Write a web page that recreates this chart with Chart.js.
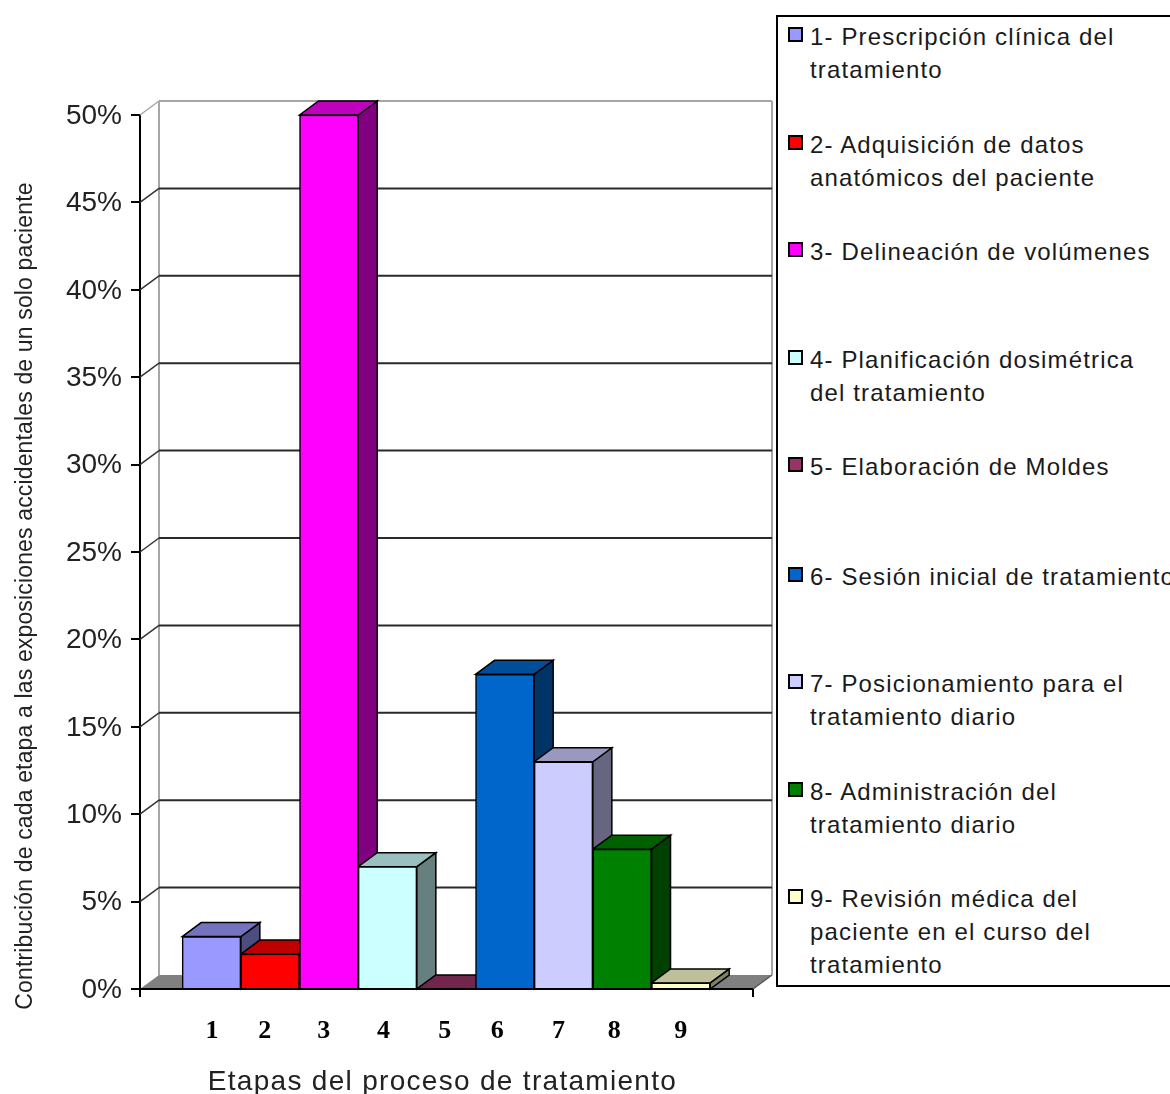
<!DOCTYPE html>
<html><head><meta charset="utf-8">
<script src="https://cdn.jsdelivr.net/npm/chart.js@4"></script>
<style>
html,body{margin:0;padding:0;background:#fff;overflow:hidden;width:1170px;height:1094px}
#wrap{position:relative;width:1170px;height:1094px;overflow:hidden}
canvas{position:absolute;left:0;top:0}
#legend{position:absolute;left:776px;top:15px;width:500px;height:968px;border:2px solid #000;background:#fff;font-family:"Liberation Sans",Arial,sans-serif;color:#1a1a1a}
.item{position:absolute;left:32px;font-size:24px;line-height:33px;letter-spacing:1.15px;white-space:nowrap}
.sw{position:absolute;left:10px;width:11px;height:11px;border:2px solid #000}
</style></head>
<body><div id="wrap"><canvas id="c" width="1170" height="1094"></canvas><div id="legend"></div></div>
<script>
const steps=[1,2,3,4,5,6,7,8,9];
const values=[3,2,50,7,0,18,13,8,0.35];
const colors=['#9999FF','#FF0000','#FF00FF','#CCFFFF','#993366','#0066CC','#CCCCFF','#008000','#FFFFCC'];
const legendLines=[
 ['1- Prescripción clínica del','tratamiento'],
 ['2- Adquisición de datos','anatómicos del paciente'],
 ['3- Delineación de volúmenes'],
 ['4- Planificación dosimétrica','del tratamiento'],
 ['5- Elaboración de Moldes'],
 ['6- Sesión inicial de tratamiento'],
 ['7- Posicionamiento para el','tratamiento diario'],
 ['8- Administración del','tratamiento diario'],
 ['9- Revisión médica del','paciente en el curso del','tratamiento']
];
const yTitle='Contribución de cada etapa a las exposiciones accidentales de un solo paciente';
const xTitle='Etapas del proceso de tratamiento';
const tickNudges=[0.5,-5.5,-5,-4,-1.5,-7.5,-5,-8,0];
const legendRows=[37,145,252,360,467,577,684,792,899];
const DX=19,DY=14;

const legend=document.getElementById('legend');
legendLines.forEach((lines,i)=>{
  const top=legendRows[i]-34;
  const sw=document.createElement('div');sw.className='sw';sw.style.top=(top+7)+'px';sw.style.background=colors[i];
  const t=document.createElement('div');t.className='item';t.style.top=top+'px';t.innerHTML=lines.join('<br>');
  legend.append(sw,t);
});

function shade(hex,f){
  const n=parseInt(hex.slice(1),16);
  return `rgb(${Math.round((n>>16&255)*f)},${Math.round((n>>8&255)*f)},${Math.round((n&255)*f)})`;
}
function poly(ctx,pts,fill,stroke,w){
  ctx.beginPath();pts.forEach((p,i)=>i?ctx.lineTo(p[0],p[1]):ctx.moveTo(p[0],p[1]));ctx.closePath();
  if(fill){ctx.fillStyle=fill;ctx.fill();}
  if(stroke){ctx.strokeStyle=stroke;ctx.lineWidth=w||1.5;ctx.stroke();}
}
function line(ctx,a,b,c,d,col,w){ctx.beginPath();ctx.moveTo(a,b);ctx.lineTo(c,d);ctx.strokeStyle=col;ctx.lineWidth=w;ctx.stroke();}
function shiftTitle(s,dx,dy,spacing){
  if(s._wrapped)return;
  s._wrapped=true;
  const orig=s.drawTitle;
  s.drawTitle=function(){
    const c=this.ctx;c.save();c.translate(dx,dy);c.letterSpacing=spacing;orig.call(this);c.restore();
  };
}

const depth3d={
  id:'depth3d',
  beforeDatasetsDraw(chart){
    const ctx=chart.ctx,x=chart.scales.x,y=chart.scales.y;
    const L=x.left,R=x.right,B=y.bottom,T=y.top;
    ctx.save();
    poly(ctx,[[L,B],[R,B],[R+DX,B-DY],[L+DX,B-DY]],'#808080');
    line(ctx,L+DX,T-DY,L+DX,B-DY,'#a6a6a6',2);
    line(ctx,R+DX,T-DY,R+DX,B-DY,'#a6a6a6',2);
    line(ctx,L+DX,T-DY,R+DX,T-DY,'#a6a6a6',2);
    line(ctx,L,T,L+DX,T-DY,'#a6a6a6',1.5);
    y.ticks.forEach(t=>{
      const py=y.getPixelForValue(t.value);
      if(t.value>0&&t.value<50){
        line(ctx,L,py,L+DX,py-DY,'#333',1.5);
        line(ctx,L+DX,py-DY,R+DX,py-DY,'#2a2a2a',2);
      }
    });
    line(ctx,R,B,R+DX,B-DY,'#555',1.5);
    const bars=chart.getDatasetMeta(0).data;
    bars.forEach((b,i)=>{
      const l=b.x-b.width/2,r=b.x+b.width/2,t=b.y;
      poly(ctx,[[r,t],[r+DX,t-DY],[r+DX,B-DY],[r,B]],shade(colors[i],.5),'#000',1.5);
      poly(ctx,[[l,t],[l+DX,t-DY],[r+DX,t-DY],[r,t]],shade(colors[i],.75),'#000',1.5);
    });
    ctx.restore();
  },
  afterDatasetsDraw(chart){
    const ctx=chart.ctx,x=chart.scales.x,y=chart.scales.y;
    ctx.save();
    line(ctx,x.left,y.bottom,x.right,y.bottom,'#000',2);
    line(ctx,x.left,y.bottom,x.left,y.bottom+8,'#000',2);
    line(ctx,x.right,y.bottom,x.right,y.bottom+8,'#000',2);
    ctx.restore();
  },
  beforeDraw(chart){
    chart.scales.x.getLabelItems().forEach((it,i)=>{
      if(!it._n){it.options.translation[0]+=tickNudges[i];it._n=true;}
    });
    chart.scales.y.getLabelItems().forEach(it=>{
      if(!it._n){it.options.translation[1]+=1;it._n=true;}
    });
    shiftTitle(chart.scales.y,0,44,'0.15px');
    shiftTitle(chart.scales.x,-4,5,'1.3px');
  }
};

new Chart(document.getElementById('c'),{
  type:'bar',
  data:{datasets:[{
    data:steps.map((s,i)=>({x:s,y:values[i]})),
    backgroundColor:colors,borderColor:'#000',borderWidth:1.5,
    barPercentage:1,categoryPercentage:1
  }]},
  options:{
    responsive:false,animation:false,devicePixelRatio:1,
    layout:{padding:{left:0,right:417,top:115,bottom:0}},
    plugins:{legend:{display:false},tooltip:{enabled:false}},
    scales:{
      x:{type:'linear',offset:false,bounds:'data',min:-0.219,max:10.23,
        afterBuildTicks(s){s.ticks=steps.map(v=>({value:v}));},
        afterFit(s){s.height=105;},
        grid:{display:false,drawTicks:false,offset:false},border:{display:false},
        ticks:{autoSkip:false,maxRotation:0,padding:27,color:'#000',font:{family:'"Liberation Serif"',weight:'bold',size:26},callback:v=>String(v)},
        title:{display:true,text:xTitle,color:'#222',padding:{top:16,bottom:0},font:{family:'"Liberation Sans"',size:28}}
      },
      y:{min:0,max:50,
        afterBuildTicks(s){s.ticks=[0,5,10,15,20,25,30,35,40,45,50].map(v=>({value:v}));},
        afterFit(s){s.width=140;},
        grid:{drawOnChartArea:false,drawTicks:true,tickLength:9,color:'#000',lineWidth:2},
        border:{display:true,color:'#000',width:2},
        ticks:{padding:9,color:'#222',font:{family:'"Liberation Sans"',size:28},callback:v=>v+'%'},
        title:{display:true,text:yTitle,color:'#222',padding:{top:12,bottom:0},font:{family:'"Liberation Sans"',size:23}}
      }
    }
  },
  plugins:[depth3d]
});
</script></body></html>
